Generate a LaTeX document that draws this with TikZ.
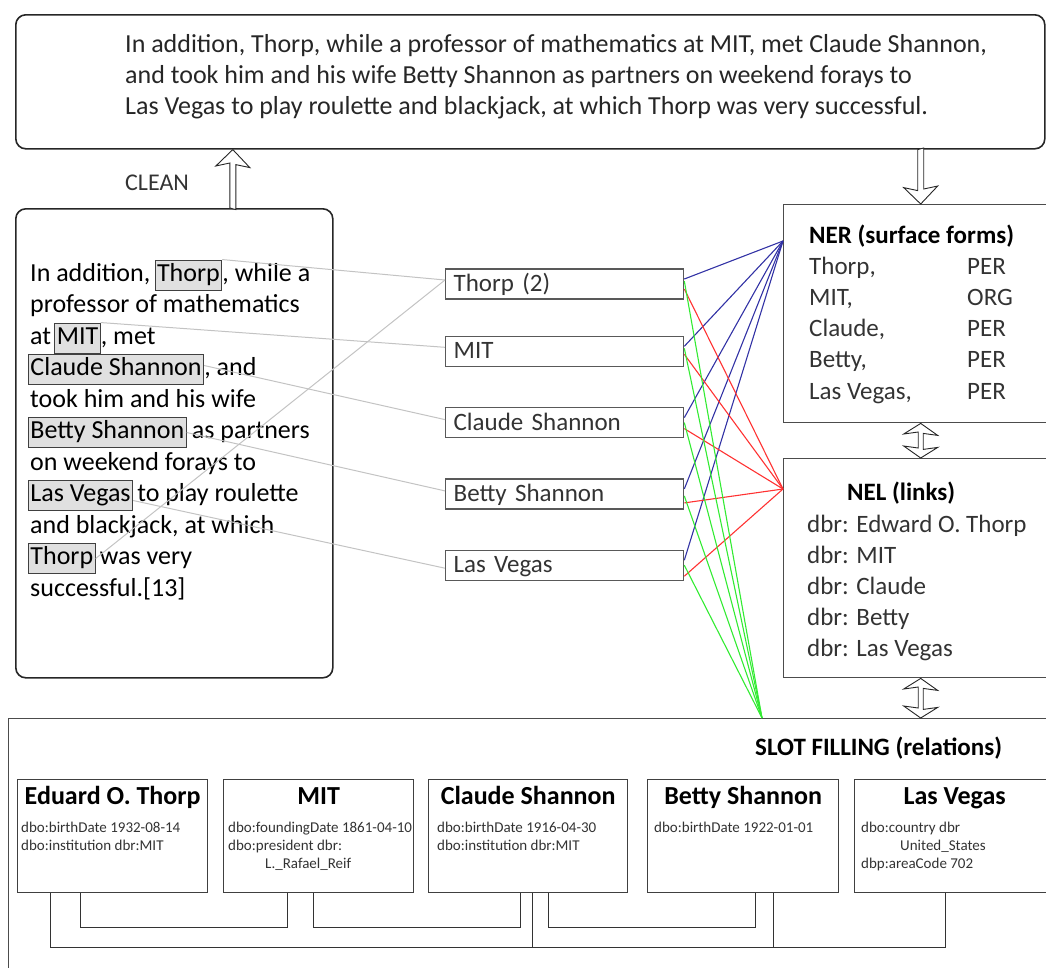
\documentclass[tikz,border=0pt]{standalone}
\usepackage{fontspec}
\setmainfont{Carlito}
\usetikzlibrary{arrows.meta,positioning,calc}
\definecolor{nerblue}{RGB}{50,50,165}
\definecolor{nelred}{RGB}{255,50,50}
\definecolor{slotgreen}{RGB}{50,235,50}
\definecolor{mentgray}{RGB}{195,195,195}
\tikzset{
  roundblk/.style={draw=black!85,line width=1.6pt,rounded corners=10pt,anchor=north west,inner sep=0pt},
  sideblk/.style={draw=black!70,line width=1.4pt,anchor=north west,inner sep=0pt,minimum width=274pt},
  entblk/.style={draw=black!75,line width=1.3pt,anchor=north west,inner sep=0pt,minimum height=113pt},
  mentblk/.style={draw=black!65,line width=1.3pt,minimum width=238pt,minimum height=30pt,text width=222pt,
    inner xsep=8pt,inner ysep=0pt,align=left,text height=20pt,text depth=5pt,
    font=\fontsize{25}{30}\selectfont,text=black!80},
  hlword/.style={draw=black!75,fill=black!12,line width=0.9pt,inner xsep=2pt,inner ysep=0pt,
    text height=21pt,text depth=9pt,anchor=base west,font=\fontsize{26}{31.5}\selectfont},
  srctxt/.style={anchor=base west,inner sep=0pt,font=\fontsize{26}{31.5}\selectfont},
  txtblk/.style={anchor=base west,inner sep=0pt},
  enttitle/.style={anchor=base,inner sep=0pt,font=\fontsize{26}{30}\selectfont\bfseries},
  attr/.style={anchor=base west,inner sep=0pt,font=\fontsize{15}{18}\selectfont,text=black!80},
  holarr/.style={draw=black!85,fill=white,line width=0.9pt,line join=miter},
  mlink/.style={draw=mentgray,line width=1pt},
  nerlink/.style={draw=nerblue,line width=1.1pt},
  nellink/.style={draw=nelred,line width=1.1pt},
  slotlink/.style={draw=slotgreen,line width=1.1pt},
  bond/.style={draw=black!80,line width=1pt}
}

\begin{document}
\begin{tikzpicture}[x=1pt,y=-1pt]
  \useasboundingbox (0,0) rectangle (1046,967);
  \clip (0,0) rectangle (1046,967);

  % cleaned sentence
  \node[roundblk,minimum width=1029pt,minimum height=134pt] (raw) at (15,14) {};
  \node[txtblk,font=\fontsize{26}{31}\selectfont,text=black!85] (rawtxt) at (125,52)
    {\begin{tabular}[t]{@{}l@{}}In addition, Thorp, while a professor of mathematics at MIT, met Claude Shannon,\\
     and took him and his wife Betty Shannon as partners on weekend forays to\\
     Las Vegas to play roulette and blackjack, at which Thorp was very successful.\end{tabular}};

  % source text with mentions
  \node[roundblk,minimum width=317pt,minimum height=469pt] (src) at (15,208) {};
  \node[txtblk,font=\fontsize{24}{28}\selectfont,text=black!80] (clean) at (125,190) {CLEAN};
  \coordinate (cleanfoot) at ([xshift=58.5pt]src.north);
  \draw[holarr] (cleanfoot) ++(-3,0) -- ++(0,-45) -- ++(-14,3) -- (cleanfoot |- raw.south)
    -- ++(17,18) -- ++(-14,-3) -- ++(0,45) -- cycle;

  \node[srctxt] (l0) at (30,281) {In addition,};
  \node[hlword] (wthorpa) at ([xshift=4pt]l0.base east) {Thorp};
  \node[srctxt] at (wthorpa.base east) {, while a};
  \node[srctxt] (l1) at (30,312.5) {professor of mathematics};
  \node[srctxt] (l2) at (30,344) {at};
  \node[hlword] (wmit) at ([xshift=3pt]l2.base east) {MIT};
  \node[srctxt] at (wmit.base east) {, met};
  \node[hlword] (wclaude) at (28,375.5) {Claude Shannon};
  \node[srctxt] at (wclaude.base east) {, and};
  \node[srctxt] (l4) at (30,407) {took him and his wife};
  \node[hlword] (wbetty) at (28,438.5) {Betty Shannon};
  \node[srctxt] at ([xshift=5pt]wbetty.base east) {as partners};
  \node[srctxt] (l6) at (30,470) {on weekend forays to};
  \node[hlword] (wvegas) at (28,501.5) {Las Vegas};
  \node[srctxt] at ([xshift=4pt]wvegas.base east) {to play roulette};
  \node[srctxt] (l8) at (30,533) {and blackjack, at which};
  \node[hlword] (wthorpb) at (28,564.5) {Thorp};
  \node[srctxt] at ([xshift=4pt]wthorpb.base east) {was very};
  \node[srctxt] (l10) at (30,596) {successful.[13]};

  % mentions
  \node[mentblk,anchor=west] (mthorp) at (445,284) {Thorp (2)};
  \node[mentblk,below=36pt of mthorp] (mmit) {MIT};
  \node[mentblk,below=40pt of mmit] (mclaude) {Claude Shannon};
  \node[mentblk,below=40pt of mclaude] (mbetty) {Betty Shannon};
  \node[mentblk,below=40pt of mbetty] (mvegas) {Las Vegas};

  \draw[mlink] (wthorpa.north east) -- ([yshift=4pt]mthorp.west);
  \draw[mlink] (wthorpb.east) -- ([yshift=4pt]mthorp.west);
  \draw[mlink] (wmit.north east) -- ([yshift=4pt]mmit.west);
  \draw[mlink] ([yshift=4pt]wclaude.east) -- ([yshift=3pt]mclaude.west);
  \draw[mlink] (wbetty.east) -- ([yshift=3pt]mbetty.west);
  \draw[mlink] ([yshift=-5pt]wvegas.east) -- ([yshift=-3pt]mvegas.west);

  % NER / NEL
  \node[sideblk,minimum height=218pt] (ner) at (783,204) {};
  \node[txtblk,font=\fontsize{25}{31.2}\selectfont,text=black!80] (nertxt) at (809,243)
    {\begin{tabular}[t]{@{}p{158pt}@{}l@{}}\multicolumn{2}{@{}l@{}}{\textcolor{black}{\bfseries NER (surface forms)}}\\
     Thorp, & PER\\ MIT, & ORG\\ Claude, & PER\\ Betty, & PER\\ Las Vegas, & PER\end{tabular}};
  \draw[holarr] (raw.south -| ner.north) ++(-3,0) -- ++(0,41) -- ++(-14,-3) -- (ner.north)
    -- ++(17,-18) -- ++(-14,3) -- ++(0,-41) -- cycle;

  \node[sideblk,minimum height=219pt] (nel) at (783,458) {};
  \node[txtblk,font=\fontsize{25}{31}\selectfont\bfseries] (neltitle) at (847,500) {NEL (links)};
  \node[txtblk,font=\fontsize{25}{31}\selectfont,text=black!80] (neltxt) at (807,532)
    {\begin{tabular}[t]{@{}l@{}}dbr: Edward O. Thorp\\ dbr: MIT\\ dbr: Claude\\ dbr: Betty\\ dbr: Las Vegas\end{tabular}};
  \draw[holarr] (ner.south) -- ++(17,12) -- ++(-14.5,-2) -- ++(0,16) -- ++(14.5,-2) -- (nel.north)
    -- ++(-17,-12) -- ++(14.5,2) -- ++(0,-16) -- ++(-14.5,2) -- cycle;

  % slot filling
  \node[draw=black!70,line width=1.4pt,anchor=north west,inner sep=0pt,minimum width=1060pt,minimum height=280pt] (slot) at (8,718) {};
  \node[txtblk,font=\fontsize{25}{30}\selectfont\bfseries] (slottitle) at (755,755) {SLOT FILLING (relations)};
  \draw[holarr] (nel.south) -- ++(17,12) -- ++(-14.5,-2) -- ++(0,21) -- ++(14.5,-2) -- (nel.south |- slot.north)
    -- ++(-17,-12) -- ++(14.5,2) -- ++(0,-21) -- ++(-14.5,2) -- cycle;

  \coordinate (nerin) at ([yshift=-37pt]ner.north west);
  \coordinate (nelin) at ([yshift=-31pt]nel.north west);
  \coordinate (slotin) at ([xshift=754pt]slot.north west);

  \draw[nerlink] ([yshift=5pt]mthorp.east) -- (nerin);
  \draw[nerlink] ([yshift=5pt]mmit.east) -- (nerin);
  \draw[nerlink] ([yshift=5pt]mclaude.east) -- (nerin);
  \draw[nerlink] ([yshift=5pt]mbetty.east) -- (nerin);
  \draw[nerlink] ([yshift=5pt]mvegas.east) -- (nerin);

  \draw[nellink] ([yshift=-5pt]mthorp.east) -- (nelin);
  \draw[nellink] ([yshift=-3pt]mmit.east) -- (nelin);
  \draw[nellink] ([yshift=-6pt]mclaude.east) -- (nelin);
  \draw[nellink] ([yshift=-9pt]mbetty.east) -- (nelin);
  \draw[nellink] ([yshift=-11pt]mvegas.east) -- (nelin);

  \draw[slotlink] ([yshift=3pt]mthorp.east) -- (slotin);
  \draw[slotlink] ([yshift=3pt]mmit.east) -- (slotin);
  \draw[slotlink] (mclaude.east) -- (slotin);
  \draw[slotlink] ([yshift=-2pt]mbetty.east) -- (slotin);
  \draw[slotlink] (mvegas.east) -- (slotin);

  % entities
  \node[entblk,minimum width=190pt] (e1) at (17,779) {};
  \node[entblk,minimum width=190pt] (e2) at (223,779) {};
  \node[entblk,minimum width=199pt] (e3) at (428,779) {};
  \node[entblk,minimum width=191pt] (e4) at (647,779) {};
  \node[entblk,minimum width=200pt] (e5) at (854,779) {};

  \node[enttitle] at ([yshift=-25pt]e1.north) {Eduard O. Thorp};
  \node[enttitle] at ([yshift=-25pt]e2.north) {MIT};
  \node[enttitle] at ([yshift=-25pt]e3.north) {Claude Shannon};
  \node[enttitle] at ([yshift=-25pt]e4.north) {Betty Shannon};
  \node[enttitle] at ([yshift=-25pt]e5.north) {Las Vegas};

  \node[attr] (a1) at ([xshift=4pt,yshift=-53pt]e1.north west)
    {\begin{tabular}[t]{@{}l@{}}dbo:birthDate 1932-08-14\\ dbo:institution dbr:MIT\end{tabular}};
  \node[attr] (a2) at ([xshift=5pt,yshift=-53pt]e2.north west)
    {\begin{tabular}[t]{@{}l@{}}dbo:foundingDate 1861-04-10\\ dbo:president dbr:\\ \hspace*{37pt}L.\_Rafael\_Reif\end{tabular}};
  \node[attr] (a3) at ([xshift=9pt,yshift=-53pt]e3.north west)
    {\begin{tabular}[t]{@{}l@{}}dbo:birthDate 1916-04-30\\ dbo:institution dbr:MIT\end{tabular}};
  \node[attr] (a4) at ([xshift=7pt,yshift=-53pt]e4.north west)
    {\begin{tabular}[t]{@{}l@{}}dbo:birthDate 1922-01-01\end{tabular}};
  \node[attr] (a5) at ([xshift=7pt,yshift=-53pt]e5.north west)
    {\begin{tabular}[t]{@{}l@{}}dbo:country dbr\\ \hspace*{39pt}United\_States\\ dbp:areaCode 702\end{tabular}};

  \draw[bond] ([xshift=-32pt]e1.south) -- ++(0,34) -| ([xshift=-31pt]e2.south);
  \draw[bond] ([xshift=-5pt]e2.south) -- ++(0,34) -| ([xshift=-7.5pt]e3.south);
  \draw[bond] ([xshift=20.5pt]e3.south) -- ++(0,34) -| ([xshift=12.5pt]e4.south);
  \draw[bond] ([xshift=-62pt]e1.south) -- ++(0,54) -| ([xshift=-9pt]e5.south);
  \draw[bond] ([xshift=4.5pt]e3.south) -- ++(0,54);
  \draw[bond] ([xshift=30.5pt]e4.south) -- ++(0,54);
\end{tikzpicture}
\end{document}
